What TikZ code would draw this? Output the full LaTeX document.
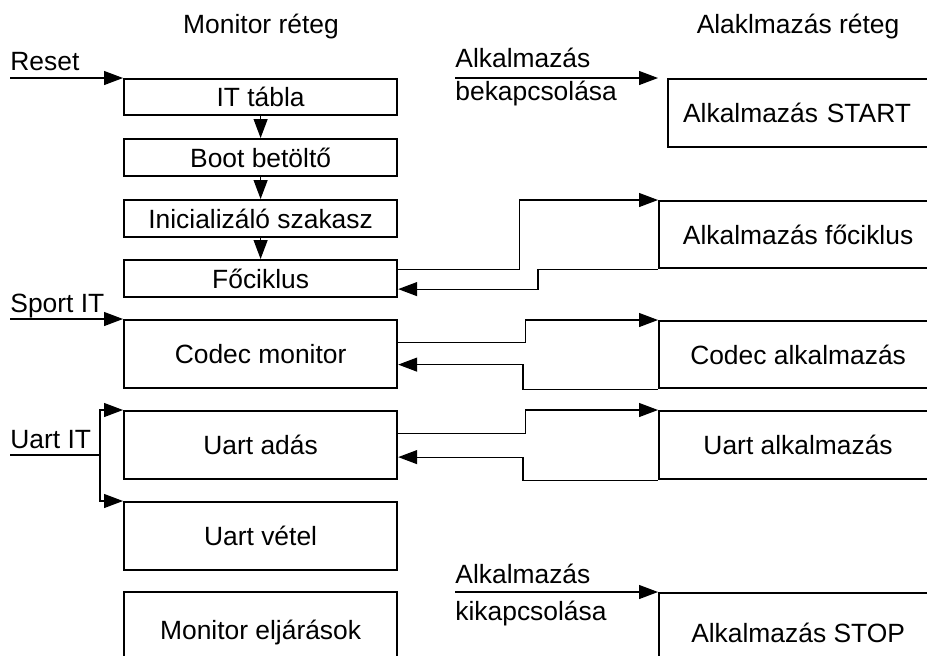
\documentclass[tikz,border=0pt]{standalone}
\usepackage{fontspec}
\setmainfont{Liberation Sans}
\usetikzlibrary{arrows.meta}

\begin{document}
\begin{tikzpicture}[
  x=0.5pt, y=-0.5pt,
  every node/.style={font=\fontsize{13.2pt}{16pt}\selectfont, inner sep=0pt},
  thin/.style={draw, line width=1.1pt, anchor=north west, minimum width=136.5pt, minimum height=18.5pt},
  tall/.style={draw, line width=1.1pt, anchor=north west, minimum width=136.5pt, minimum height=34pt},
  appbox/.style={draw, line width=1.1pt, anchor=north west, minimum width=139pt, minimum height=33.5pt},
  lbl/.style={anchor=base west},
  link/.style={line width=0.6pt},
  arr/.style={line width=0.6pt, -{Triangle[length=9.5pt, width=7pt]}}
]
\useasboundingbox (0,0) rectangle (927,655);
\clip (0,0) rectangle (927,655);

% column headings
\node[anchor=base] (hmon) at (261,33) {Monitor réteg};
\node[anchor=base] (happ) at (798,33) {Alaklmazás réteg};

% monitor layer
\node[thin, minimum height=18pt] (itt) at (123,78) {IT tábla};
\node[thin] (boot) at (123,138) {Boot betöltő};
\node[thin] (init) at (123,199) {Inicializáló szakasz};
\node[thin] (foc) at (123,259) {Főciklus};
\node[tall] (codec) at (123,319) {Codec monitor};
\node[tall] (utx) at (123,410) {Uart adás};
\node[tall] (urx) at (123,501) {Uart vétel};
\node[tall, minimum height=40pt] (mproc) at (123,591) {Monitor eljárások};

% application layer
\node[appbox, minimum width=134.5pt, minimum height=34pt, text width=134.5pt, align=left] (astart) at (667,78) {\hspace*{7.5pt}Alkalmazás START};
\node[appbox] (afoc) at (658,200) {Alkalmazás főciklus};
\node[appbox] (acodec) at (658,320) {Codec alkalmazás};
\node[appbox, minimum height=34pt] (auart) at (658,410) {Uart alkalmazás};
\node[appbox, minimum height=40pt] (astop) at (658,592) {Alkalmazás STOP};

% start-up chain
\draw[arr] (itt) -- (boot);
\draw[arr] (boot) -- (init);
\draw[arr] (init) -- (foc);

% external inputs
\node[lbl] (lreset) at (10,70) {Reset};
\coordinate (reset) at (10,78);
\draw[arr] (reset) -- (itt.north west);

\node[lbl] (lsport) at (10,312) {Sport IT};
\coordinate (sport) at (10,319);
\draw[arr] (sport) -- (codec.north west);

\node[lbl] (luart) at (10,448) {Uart IT};
\coordinate (uart) at (10,455);
\coordinate (usplit) at (100,455);
\draw[link] (uart) -- (usplit);
\draw[arr] (usplit) |- (utx.north west);
\draw[arr] (usplit) |- (urx.north west);

% application switching
\node[lbl] (lon1) at (455,67) {Alkalmazás};
\node[lbl] (lon2) at (455,100) {bekapcsolása};
\coordinate (on) at (455,78);
\draw[arr] (on) -- ([xshift=-4.5pt]astart.north west);

\node[lbl] (loff1) at (455,583) {Alkalmazás};
\node[lbl] (loff2) at (455,620) {kikapcsolása};
\coordinate (off) at (455,592);
\draw[arr] (off) -- (astop.north west);

% calls between the layers
\draw[arr] (foc.east |- afoc.south) -- ++(121,0) |- (afoc.north west);
\draw[arr] (afoc.south west) -- ++(-120,0) |- ([yshift=-5.25pt]foc.east);

\draw[arr] ([yshift=5.75pt]codec.east) -- ++(127,0) |- (acodec.north west);
\draw[arr] (acodec.south west) -- ++(-135,0) |- ([yshift=-5.25pt]codec.east);

\draw[arr] ([yshift=6pt]utx.east) -- ++(127,0) |- (auart.north west);
\draw[arr] (auart.south west) -- ++(-135,0) |- ([yshift=-6pt]utx.east);
\end{tikzpicture}
\end{document}
